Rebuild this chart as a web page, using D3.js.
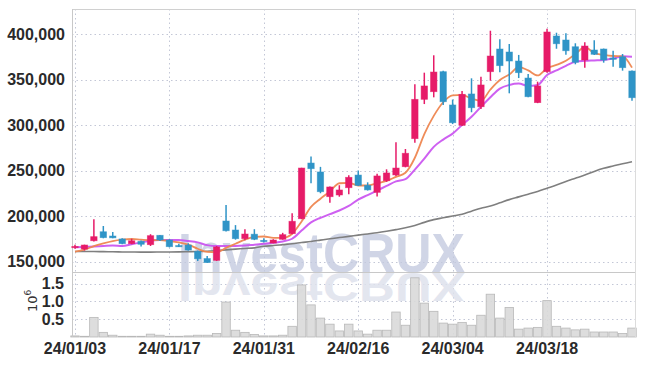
<!DOCTYPE html>
<html><head><meta charset="utf-8">
<script src="https://cdn.jsdelivr.net/npm/d3@7"></script>
<style>html,body{margin:0;padding:0;background:#fff;}svg{display:block;}</style>
</head><body>
<svg id="c" width="645" height="366"></svg>
<script>
const dates = ["24/01/03","24/01/04","24/01/05","24/01/08","24/01/09","24/01/10","24/01/11","24/01/12","24/01/15","24/01/16",
"24/01/17","24/01/18","24/01/19","24/01/22","24/01/23","24/01/24","24/01/25","24/01/26","24/01/29","24/01/30",
"24/01/31","24/02/01","24/02/02","24/02/05","24/02/06","24/02/07","24/02/08","24/02/13","24/02/14","24/02/15",
"24/02/16","24/02/19","24/02/20","24/02/21","24/02/22","24/02/23","24/02/26","24/02/27","24/02/28","24/02/29",
"24/03/04","24/03/05","24/03/06","24/03/07","24/03/08","24/03/11","24/03/12","24/03/13","24/03/14","24/03/15",
"24/03/18","24/03/19","24/03/20","24/03/21","24/03/22","24/03/25","24/03/26","24/03/27","24/03/28","24/03/29"];
const open  = [166000,163700,172800,182700,178000,174800,169600,172200,168500,178800,
173600,167500,168100,161000,153200,151300,194500,184600,175100,180000,
173200,170300,174400,180600,197000,258200,248400,221200,223100,231100,
245000,233700,226000,238800,245100,254200,285000,328200,336600,358600,
322000,299700,334100,320100,358600,383500,380200,370300,351600,324600,
358600,397800,393400,386000,371400,382400,383500,373600,375000,359300];
const high  = [168500,168500,196500,189000,182400,175500,175000,173000,180000,179000,
174500,169500,170000,162000,156000,167000,212000,190000,185500,185500,
175500,174500,181500,203000,253000,265500,254000,232500,233800,244800,
250000,237000,246500,251300,281000,273600,344700,357500,376600,359500,
328000,337400,351300,353100,403600,394200,389000,377000,356000,347600,
405800,401400,400700,389800,391000,393000,384000,381600,378000,360000];
const low   = [164000,162000,172000,175500,175500,169000,169000,166500,167000,172500,
165500,166000,162000,150500,148500,150500,183000,174000,173300,173500,
170800,170000,174000,180000,196500,236000,225000,214500,221200,224000,
233000,228000,221500,237500,244000,253500,280500,323000,330400,322000,
301000,299000,314000,317500,348700,357900,334800,351600,330500,324000,
357500,383800,377300,366700,363000,377000,368500,364000,359700,326700];
const close = [166500,168100,177300,176200,176000,169600,172800,168900,178400,173600,
166300,166800,162600,153000,148800,166000,183800,175100,180200,174400,
172600,173600,179500,194200,252700,252000,226700,231900,228600,242500,
233700,228700,244000,247300,252700,268900,328200,342900,358200,325600,
302500,333700,319000,344000,375800,365200,370300,357500,331100,342900,
402200,389300,381600,368900,386800,377700,371400,372200,363000,330000];
const ma5 = [160800,163000,167000,170000,172500,174000,174700,174000,173500,173500,
172500,171000,168500,164000,160500,160200,165000,169500,174000,177000,
177500,176000,176000,180500,194000,210000,219000,227000,236000,236500,
233500,233500,236000,238500,243000,247500,264000,290000,310000,325000,
332500,333000,329000,326500,339000,349500,355500,363500,360000,354500,
362500,366000,370500,378000,385500,379000,377000,375800,375500,363000];
const ma10 = [165600,166000,166500,167000,167500,167000,169000,171000,172900,173500,
173600,173600,172500,171000,168000,167000,167000,167000,167500,168500,
169500,170500,172000,175000,184000,193000,198000,202000,206000,211000,
218000,223000,228000,233000,238000,240500,251000,263000,276000,284000,
290500,300000,309000,320000,330500,340000,344000,345500,343000,344000,
355000,360000,365000,369500,370500,371000,371500,373000,375500,375000];
const ma60 = [161000,161000,161000,160800,160700,160500,160400,160300,160300,160400,
160500,160600,160800,161000,161300,162000,162800,163600,164300,165000,
166700,167500,168500,169500,170800,172000,173500,175000,176300,177600,
179000,180300,181600,183200,185000,187000,189500,193000,196000,198000,
200000,202000,205300,208500,211000,214500,218000,221000,224000,227000,
230500,234000,238000,241500,245000,249000,252400,255000,257500,259700];
const volume = [0.03,0.02,0.55,0.13,0.05,0.02,0.02,0.02,0.08,0.05,
0.02,0.02,0.03,0.05,0.05,0.10,0.98,0.19,0.13,0.07,
0.03,0.03,0.05,0.30,1.46,0.90,0.53,0.36,0.17,0.36,
0.17,0.08,0.19,0.19,0.70,0.33,1.66,0.95,0.72,0.39,
0.36,0.41,0.33,0.61,1.20,0.53,0.83,0.22,0.25,0.27,
1.02,0.30,0.25,0.20,0.22,0.14,0.14,0.14,0.10,0.25];
const priceTicks = [150000,200000,250000,300000,350000,400000];
const volTicks = [0.5,1.0,1.5];
const dateTickIdx = [0,10,20,30,40,50];

const svg = d3.select("#c");
const L = 72, R = 636, T = 9, MID = 272, B = 337;
const x = d3.scaleLinear().domain([0,59]).range([75,632]);
const y = d3.scaleLinear().domain([150000,400000]).range([261.5,34]);
const yv = d3.scaleLinear().domain([0,1.5]).range([B,283.5]);
const font = "'Liberation Sans Narrow','Liberation Sans',sans-serif";

// grid
const grid = svg.append("g").attr("stroke","#c3c7d6").attr("stroke-dasharray","1.5,3").attr("stroke-width",1);
priceTicks.forEach(p=>grid.append("line").attr("x1",L).attr("x2",R).attr("y1",Math.round(y(p))+0.5).attr("y2",Math.round(y(p))+0.5));
volTicks.forEach(v=>grid.append("line").attr("x1",L).attr("x2",R).attr("y1",Math.round(yv(v))+0.5).attr("y2",Math.round(yv(v))+0.5));
dateTickIdx.forEach(i=>grid.append("line").attr("x1",Math.round(x(i))+0.5).attr("x2",Math.round(x(i))+0.5).attr("y1",T).attr("y2",B));

// watermark
const defs = svg.append("defs");
const lg = defs.append("linearGradient").attr("id","fade").attr("gradientUnits","userSpaceOnUse")
  .attr("x1",0).attr("x2",0).attr("y1",272).attr("y2",302);
lg.append("stop").attr("offset","0%").attr("stop-color","#d5dae9").attr("stop-opacity",0.95);
lg.append("stop").attr("offset","100%").attr("stop-color","#eceef5").attr("stop-opacity",0.5);
const wm = svg.append("g");
wm.append("text").attr("x",178).attr("y",272).attr("font-family","'Liberation Sans',Arial,sans-serif").attr("font-weight","bold")
  .attr("font-size",56).attr("textLength",287).attr("lengthAdjust","spacingAndGlyphs").attr("fill","#c4cadf").attr("opacity",0.78).text("InvestCRUX");
wm.append("g").attr("transform","translate(0,273) scale(1,-0.72)")
  .append("text").attr("x",178).attr("y",0).attr("font-family","'Liberation Sans',Arial,sans-serif").attr("font-weight","bold")
  .attr("font-size",56).attr("textLength",287).attr("lengthAdjust","spacingAndGlyphs").attr("fill","#dfe2ed").attr("opacity",0.85).text("InvestCRUX");

// volume bars
const step = x(1)-x(0);
svg.append("g").selectAll("rect").data(volume).join("rect")
  .attr("x",(d,i)=>x(i)-step/2+0.5).attr("width",step-1)
  .attr("y",d=>yv(d)).attr("height",d=>B-yv(d))
  .attr("fill","#d9d9d9").attr("fill-opacity",0.9).attr("stroke","#b8b8b8").attr("stroke-width",0.8);

// borders
svg.append("line").attr("x1",L).attr("x2",R).attr("y1",T+0.5).attr("y2",T+0.5).attr("stroke","#d0d0d0");
svg.append("line").attr("x1",L).attr("x2",R).attr("y1",MID+0.5).attr("y2",MID+0.5).attr("stroke","#c8c8c8");
svg.append("line").attr("x1",L+0.5).attr("x2",L+0.5).attr("y1",T).attr("y2",B).attr("stroke","#c8c8c8");
svg.append("line").attr("x1",R-0.5).attr("x2",R-0.5).attr("y1",T).attr("y2",B).attr("stroke","#dcdcdc");

// MA lines
const line = arr => d3.line().x((d,i)=>x(i)).y(d=>y(d)).curve(d3.curveMonotoneX)(arr);
svg.append("path").attr("d",line(ma60)).attr("fill","none").attr("stroke","#7f7f7f").attr("stroke-width",1.6);
svg.append("path").attr("d",line(ma10)).attr("fill","none").attr("stroke","#c94fef").attr("stroke-width",2).attr("opacity",0.9);
svg.append("path").attr("d",line(ma5)).attr("fill","none").attr("stroke","#ee8650").attr("stroke-width",1.8).attr("opacity",0.95);

// candles
const up = "#e61b68", down = "#2f94c7";
const cg = svg.append("g");
dates.forEach((d,i)=>{
  const c = close[i] >= open[i] ? up : down;
  const g = cg.append("g");
  g.append("line").attr("x1",x(i)).attr("x2",x(i)).attr("y1",y(high[i])).attr("y2",y(low[i])).attr("stroke",c).attr("stroke-width",1.5);
  const top = y(Math.max(open[i],close[i])), bot = y(Math.min(open[i],close[i]));
  g.append("rect").attr("x",x(i)-3.2).attr("width",6.4).attr("y",top).attr("height",Math.max(1.2,bot-top))
    .attr("fill",c).attr("stroke",c).attr("stroke-opacity",0.6).attr("stroke-width",0.8);
});

// axis labels
const lab = svg.append("g").attr("font-family",font).attr("font-size",16).attr("font-weight","bold").attr("fill","#2a2a2a");
priceTicks.forEach(p=>lab.append("text").attr("x",65).attr("y",y(p)).attr("dy","0.35em").attr("text-anchor","end").text(d3.format(",")(p)));
volTicks.forEach(v=>lab.append("text").attr("x",64).attr("y",yv(v)).attr("dy","0.35em").attr("text-anchor","end").text(d3.format(".1f")(v)));
dateTickIdx.forEach(i=>lab.append("text").attr("x",x(i)).attr("y",354).attr("text-anchor","middle").text(dates[i]));
const pw = svg.append("text").attr("transform","translate(37,312) rotate(-90)").attr("font-family","'DejaVu Sans',sans-serif").attr("font-size",13).attr("fill","#333");
pw.append("tspan").text("10");
pw.append("tspan").attr("dy",-6).attr("font-size",9).text("6");
</script>
</body></html>
